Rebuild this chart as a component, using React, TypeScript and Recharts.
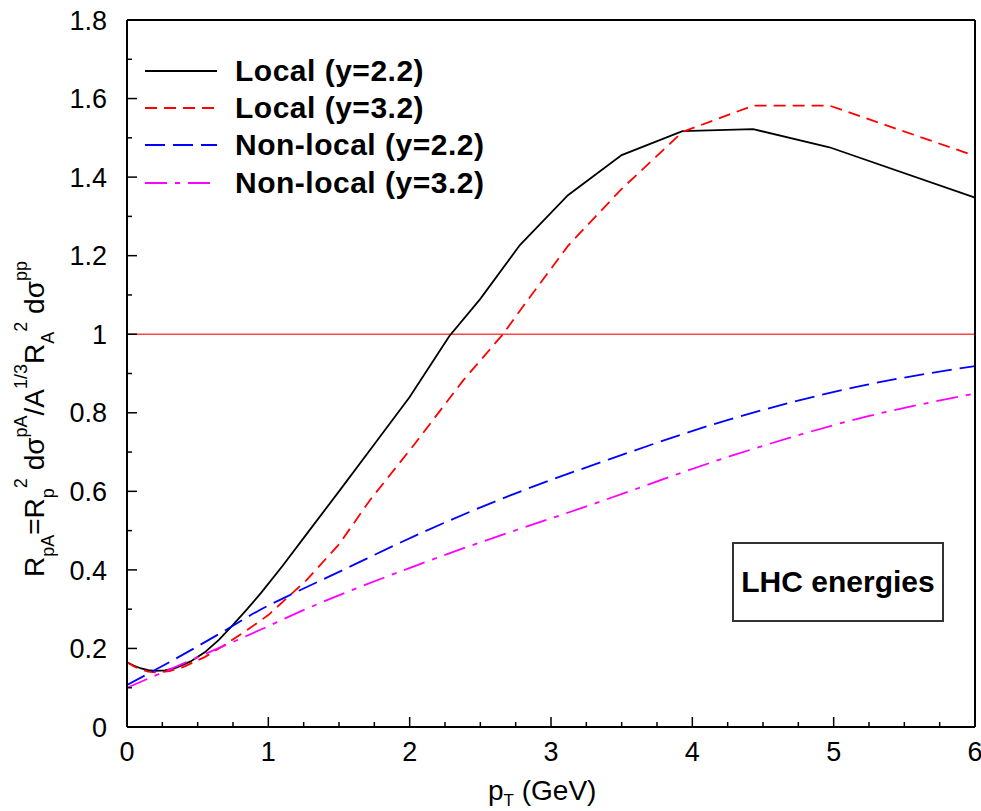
import React from "react";
import {
  LineChart,
  Line,
  XAxis,
  YAxis,
  ReferenceLine,
  Legend,
} from "recharts";

// p_T (GeV) / R_pA pairs
const localY22: Array<[number, number]> = [
  [0, 0.165], [0.05, 0.156], [0.1, 0.149], [0.15, 0.145], [0.2, 0.143],
  [0.27, 0.144], [0.35, 0.151], [0.45, 0.167], [0.55, 0.19], [0.65, 0.222],
  [0.75, 0.26], [0.85, 0.3], [0.95, 0.342], [1.1, 0.41], [1.3, 0.505],
  [1.5, 0.6], [1.75, 0.72], [2.0, 0.84], [2.28, 0.995], [2.5, 1.09],
  [2.78, 1.227], [3.12, 1.354], [3.5, 1.456], [3.93, 1.517], [4.43, 1.522],
  [4.97, 1.476], [6.0, 1.348],
];

const localY32: Array<[number, number]> = [
  [0, 0.165], [0.05, 0.154], [0.1, 0.146], [0.15, 0.141], [0.2, 0.139],
  [0.3, 0.142], [0.4, 0.153], [0.55, 0.178], [0.7, 0.211], [0.85, 0.247],
  [1.0, 0.285], [1.27, 0.374], [1.5, 0.465], [1.72, 0.578], [2.03, 0.718],
  [2.38, 0.883], [2.66, 1.0], [2.78, 1.06], [3.12, 1.225], [3.5, 1.37],
  [3.93, 1.515], [4.43, 1.582], [4.97, 1.582], [6.0, 1.454],
];

const nonLocalY22: Array<[number, number]> = [
  [0, 0.107], [0.3, 0.165], [0.7, 0.247], [0.94, 0.298], [1.13, 0.332],
  [1.5, 0.395], [2.1, 0.497], [2.75, 0.595], [3.4, 0.68], [4.29, 0.786],
  [5.23, 0.871], [6.0, 0.919],
];

const nonLocalY32: Array<[number, number]> = [
  [0, 0.1], [0.4, 0.162], [0.94, 0.247], [1.22, 0.293], [2.12, 0.421],
  [3.35, 0.574], [4.29, 0.692], [5.23, 0.79], [6.0, 0.849],
];

const xTicks = [
  0, 0.25, 0.5, 0.75, 1, 1.25, 1.5, 1.75, 2, 2.25, 2.5, 2.75, 3, 3.25, 3.5,
  3.75, 4, 4.25, 4.5, 4.75, 5, 5.25, 5.5, 5.75, 6,
];
const yTicks = [
  0, 0.1, 0.2, 0.3, 0.4, 0.5, 0.6, 0.7, 0.8, 0.9, 1, 1.1, 1.2, 1.3, 1.4, 1.5,
  1.6, 1.7, 1.8,
];

const FONT = '"Liberation Sans", Arial, Helvetica, sans-serif';

const toRows = (pts: Array<[number, number]>) =>
  pts.map(([pT, r]) => ({ pT, r }));

const series = [
  { name: "Local (y=2.2)", pts: localY22, color: "#000000", dash: undefined, type: "linear" },
  { name: "Local (y=3.2)", pts: localY32, color: "#ff0000", dash: "12 7", type: "linear" },
  { name: "Non-local (y=2.2)", pts: nonLocalY22, color: "#0000ff", dash: "20 8", type: "monotone" },
  { name: "Non-local (y=3.2)", pts: nonLocalY32, color: "#ff00ff", dash: "22 8 5 8", type: "monotone" },
];

const isMajorX = (v: number) => Math.abs(v - Math.round(v)) < 1e-6;
const isMajorY = (v: number) => Math.abs(v * 5 - Math.round(v * 5)) < 1e-6;
const fmtY = (v: number) => String(Number(v.toFixed(1)));

const BottomTick = (props: any) => {
  const { x, y, payload } = props;
  const major = isMajorX(payload.value);
  return (
    <g>
      <line x1={x} x2={x} y1={y} y2={y - (major ? 10 : 5)} stroke="#000" strokeWidth={1.5} />
      {major && (
        <text x={x} y={y + 34} textAnchor="middle" fontSize={27} fontFamily={FONT} fill="#000">
          {payload.value}
        </text>
      )}
    </g>
  );
};

const TopTick = (props: any) => {
  const { x, y, payload } = props;
  const major = isMajorX(payload.value);
  return <line x1={x} x2={x} y1={y} y2={y + (major ? 10 : 5)} stroke="#000" strokeWidth={1.5} />;
};

const LeftTick = (props: any) => {
  const { x, y, payload } = props;
  const major = isMajorY(payload.value);
  return (
    <g>
      <line x1={x} x2={x + (major ? 10 : 5)} y1={y} y2={y} stroke="#000" strokeWidth={1.5} />
      {major && (
        <text x={x - 20} y={y} dy="0.36em" textAnchor="end" fontSize={27} fontFamily={FONT} fill="#000">
          {fmtY(payload.value)}
        </text>
      )}
    </g>
  );
};

const RightTick = (props: any) => {
  const { x, y, payload } = props;
  const major = isMajorY(payload.value);
  return <line x1={x} x2={x - (major ? 10 : 5)} y1={y} y2={y} stroke="#000" strokeWidth={1.5} />;
};

// y label pieces: base text, subscript or superscript
const yLabelParts: Array<[string, "" | "sub" | "sup"]> = [
  ["R", ""], ["pA", "sub"], ["=R", ""], ["p", "sub"], ["2", "sup"],
  [" d\u03c3", ""], ["pA", "sup"], ["/A", ""], ["1/3", "sup"], ["R", ""],
  ["A", "sub"], ["2", "sup"], [" d\u03c3", ""], ["pp", "sup"],
];

const YLabel = () => {
  let cur = 0;
  return (
    <text
      transform="translate(44, 577) rotate(-90)"
      fontSize={28}
      fontFamily={FONT}
      fill="#000"
      style={{ whiteSpace: "pre" }}
    >
      {yLabelParts.map(([t, kind], i) => {
        const target = kind === "sub" ? 10 : kind === "sup" ? -17 : 0;
        const dy = target - cur;
        cur = target;
        return (
          <tspan key={i} dy={dy} fontSize={kind ? 18 : 28}>
            {t}
          </tspan>
        );
      })}
    </text>
  );
};

const XLabel = () => (
  <text x={488} y={800} fontSize={28} fontFamily={FONT} fill="#000" style={{ whiteSpace: "pre" }}>
    p
    <tspan dy={6} fontSize={17}>T</tspan>
    <tspan dy={-6}> (GeV)</tspan>
  </text>
);

const renderLegend = () => (
  <div style={{ display: "flex", flexDirection: "column" }}>
    {series.map((s) => (
      <div key={s.name} style={{ display: "flex", alignItems: "center", height: 37.4 }}>
        <svg width={72} height={4} style={{ display: "block" }}>
          <line x1={0} x2={72} y1={2} y2={2} stroke={s.color} strokeWidth={2} strokeDasharray={s.dash} />
        </svg>
        <span
          style={{
            marginLeft: 18,
            font: `bold 30px ${FONT}`,
            letterSpacing: 0.5,
            color: "#000",
            whiteSpace: "nowrap",
          }}
        >
          {s.name}
        </span>
      </div>
    ))}
  </div>
);

export default function App() {
  return (
    <div style={{ position: "absolute", left: 0, top: 0, width: 981, height: 811, background: "#fff" }}>
      <LineChart width={981} height={811} margin={{ top: 19, right: 5, bottom: 83, left: 126 }}>
        <XAxis
          xAxisId={0}
          dataKey="pT"
          type="number"
          domain={[0, 6]}
          ticks={xTicks}
          interval={0}
          height={1}
          tickSize={0}
          tickMargin={0}
          tickLine={false}
          tick={<BottomTick />}
          axisLine={{ stroke: "#000", strokeWidth: 2 }}
          label={<XLabel />}
        />
        <XAxis
          xAxisId="top"
          orientation="top"
          dataKey="pT"
          type="number"
          domain={[0, 6]}
          ticks={xTicks}
          interval={0}
          height={1}
          tickSize={0}
          tickMargin={0}
          tickLine={false}
          tick={<TopTick />}
          axisLine={{ stroke: "#000", strokeWidth: 2 }}
        />
        <YAxis
          yAxisId={0}
          type="number"
          domain={[0, 1.8]}
          ticks={yTicks}
          interval={0}
          width={1}
          tickSize={0}
          tickMargin={0}
          tickLine={false}
          tick={<LeftTick />}
          axisLine={{ stroke: "#000", strokeWidth: 2 }}
          label={<YLabel />}
        />
        <YAxis
          yAxisId="right"
          orientation="right"
          type="number"
          domain={[0, 1.8]}
          ticks={yTicks}
          interval={0}
          width={1}
          tickSize={0}
          tickMargin={0}
          tickLine={false}
          tick={<RightTick />}
          axisLine={{ stroke: "#000", strokeWidth: 2 }}
        />
        <ReferenceLine y={1} stroke="#ff4444" strokeWidth={1.5} />
        {series.map((s) => (
          <Line
            key={s.name}
            name={s.name}
            data={toRows(s.pts)}
            dataKey="r"
            type={s.type as any}
            stroke={s.color}
            strokeWidth={1.8}
            strokeDasharray={s.dash}
            dot={false}
            activeDot={false}
            isAnimationActive={false}
          />
        ))}
        <Legend
          layout="horizontal"
          verticalAlign="middle"
          align="center"
          content={renderLegend}
          wrapperStyle={{ left: 145, top: 52, width: "auto", height: "auto" }}
        />
      </LineChart>
      <div
        style={{
          position: "absolute",
          left: 732,
          top: 542,
          width: 212,
          height: 80,
          boxSizing: "border-box",
          border: "2px solid #333",
          display: "flex",
          alignItems: "center",
          justifyContent: "center",
          font: `bold 30px ${FONT}`,
          color: "#000",
          background: "#fff",
        }}
      >
        LHC energies
      </div>
    </div>
  );
}
